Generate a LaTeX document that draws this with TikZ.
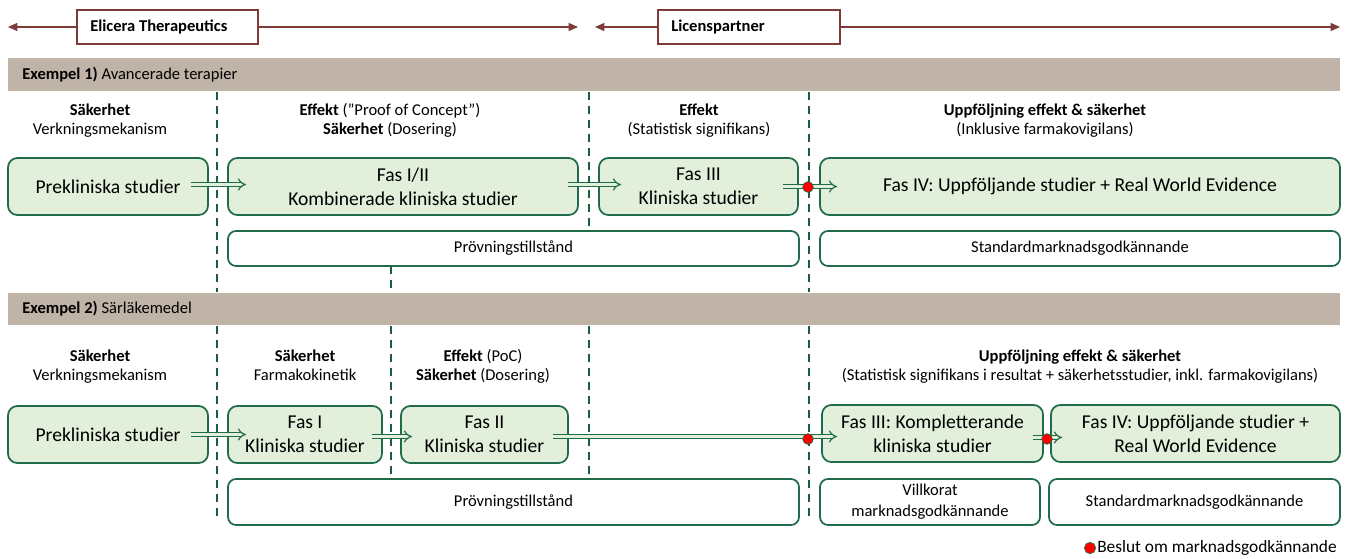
\documentclass[tikz,border=0pt]{standalone}
\usepackage{fontspec}
\setmainfont{Carlito}
\usetikzlibrary{fit,calc,arrows.meta}
\definecolor{gborder}{HTML}{1F6B4A}
\definecolor{gfill}{HTML}{E2EFDA}
\definecolor{dgreen}{HTML}{1B5E40}
\definecolor{bandc}{HTML}{C0B3A8}
\definecolor{redb}{HTML}{7F3A3A}
\newcommand\bigf{\fontsize{14.7}{18}\selectfont}
\newcommand\smf{\fontsize{12.4}{14.5}\selectfont}
\tikzset{
  gbox/.style={draw=gborder, fill=gfill, rounded corners=7pt, line width=1.3pt, inner sep=0pt},
  pbox/.style={draw=gborder, fill=white, rounded corners=6pt, line width=1.3pt, inner sep=0pt},
  btxt/.style={align=center, inner sep=0pt, font=\bigf},
  stxt/.style={align=center, inner sep=0pt, font=\smf},
  tbox/.style={draw=redb, fill=white, line width=1.1pt, inner sep=0pt},
  band/.style={fill=bandc, draw=none, inner sep=0pt},
  bandtxt/.style={anchor=west, inner sep=0pt, font=\smf},
  lbl/.style={align=center, inner sep=0pt, font=\smf, execute at begin node=\strut, execute at end node=\strut},
  dline/.style={draw=dgreen, line width=1.1pt, dash pattern=on 6pt off 4.5pt},
  rarrow/.style={draw=redb, line width=0.9pt, -{Triangle[length=7pt,width=6pt]}},
  garrow/.style={draw=gborder, double=gfill, double distance=2.2pt, line width=0.9pt, -{Implies[length=4pt]}},
  rdot/.style={circle, fill=red, draw=gborder, line width=0.5pt, minimum size=8pt, inner sep=0pt},
}
\begin{document}
\begin{tikzpicture}[x=0.75pt,y=-0.75pt]
\useasboundingbox (0,0) rectangle (1347,558);
% top arrows
\node[tbox, fit={(77,10) (258,44)}] (eli) {};
\node[anchor=west, inner sep=0pt, font=\bfseries\smf] at (90,27) {Elicera Therapeutics};
\node[tbox, fit={(658,10) (840,44)}] (lic) {};
\node[anchor=west, inner sep=0pt, font=\bfseries\smf] at (671,27) {Licenspartner};
\coordinate (a1) at (8,27);
\coordinate (a2) at (578,27);
\coordinate (a3) at (595,27);
\coordinate (a4) at (1340,27);
\draw[rarrow] (eli.west) -- (a1);
\draw[rarrow] (eli.east) -- (a2);
\draw[rarrow] (lic.west) -- (a3);
\draw[rarrow] (lic.east) -- (a4);
% bands
\node[band, fit={(8,58) (1340,91)}] (band1) {};
\node[bandtxt] at (22,75) {\textbf{Exempel 1)} Avancerade terapier};
\node[band, fit={(8,293) (1340,325)}] (band2) {};
\node[bandtxt] at (22,309) {\textbf{Exempel 2)} Särläkemedel};
% dashed lines
\draw[dline] (217,92) -- (217,292);
\draw[dline] (217,326) -- (217,516);
\draw[dline] (589,92) -- (589,230);
\draw[dline] (589,326) -- (589,478);
\draw[dline] (809,92) -- (809,292);
\draw[dline] (809,326) -- (809,520);
\draw[dline] (391,266) -- (391,292);
\draw[dline] (391,326) -- (391,478);
% row 1 labels
\node[lbl] at (100,122) {\textbf{Säkerhet}\\Verkningsmekanism};
\node[lbl] at (390,122) {\textbf{Effekt} (”Proof of Concept”)\\\textbf{Säkerhet} (Dosering)};
\node[lbl] at (699,122) {\textbf{Effekt}\\(Statistisk signifikans)};
\node[lbl] at (1045,122) {\textbf{Uppföljning effekt \& säkerhet}\\(Inklusive farmakovigilans)};
% row 1 boxes
\node[gbox, fit={(8,158) (208,215)}] (p1) {};
\node[btxt] at (p1) {Prekliniska studier};
\node[gbox, fit={(228,158) (578,215)}] (f12) {};
\node[btxt] at (f12) {Fas I/II\\Kombinerade kliniska studier};
\node[gbox, fit={(599,158) (798,215)}] (f3a) {};
\node[btxt] at (f3a) {Fas III\\Kliniska studier};
\node[gbox, fit={(820,158) (1340,215)}] (f4a) {};
\node[btxt] at (f4a) {Fas IV: Uppföljande studier + Real World Evidence};
% row 1 arrows
\draw[garrow] ($(p1.east)+(-18,-2)$) -- ($(f12.west)+(19,-2)$);
\draw[garrow] ($(f12.east)+(-11,-2)$) -- ($(f3a.west)+(23,-2)$);
\draw[garrow] ($(f3a.east)+(-16,0)$) -- ($(f4a.west)+(18,0)$);
\node[rdot] (d1) at (808,187) {};
% row 1 permits
\node[pbox, fit={(228,231) (799,266)}] (pv1) {};
\node[stxt] at (pv1) {Prövningstillstånd};
\node[pbox, fit={(820,231) (1340,266)}] (st1) {};
\node[stxt] at (st1) {Standardmarknadsgodkännande};
% row 2 labels
\node[lbl] at (100,368) {\textbf{Säkerhet}\\Verkningsmekanism};
\node[lbl] at (305,368) {\textbf{Säkerhet}\\Farmakokinetik};
\node[lbl] at (483,368) {\textbf{Effekt} (PoC)\\\textbf{Säkerhet} (Dosering)};
\node[lbl] at (1080,368) {\textbf{Uppföljning effekt \& säkerhet}\\(Statistisk signifikans i resultat + säkerhetsstudier, inkl. farmakovigilans)};
% row 2 boxes
\node[gbox, fit={(8,406) (208,463)}] (p2) {};
\node[btxt] at (p2) {Prekliniska studier};
\node[gbox, fit={(228,406) (382,463)}] (f1) {};
\node[btxt] at (f1) {Fas I\\Kliniska studier};
\node[gbox, fit={(401,406) (568,463)}] (f2) {};
\node[btxt] at (f2) {Fas II\\Kliniska studier};
\node[gbox, fit={(822,405) (1043,462)}] (f3b) {};
\node[btxt] at (f3b) {Fas III: Kompletterande\\kliniska studier};
\node[gbox, fit={(1051,405) (1340,462)}] (f4b) {};
\node[btxt] at (f4b) {Fas IV: Uppföljande studier +\\Real World Evidence};
% row 2 arrows
\draw[garrow] ($(p2.east)+(-18,0)$) -- ($(f1.west)+(19,0)$);
\draw[garrow] ($(f1.east)+(-11,2)$) -- ($(f2.west)+(12,2)$);
\draw[garrow] ($(f2.east)+(-16,2)$) -- ($(f3b.west)+(16,3)$);
\draw[garrow] ($(f3b.east)+(-11,4)$) -- ($(f4b.west)+(12,4)$);
\node[rdot] (d2) at (808,439) {};
\node[rdot] (d3) at (1047,439) {};
% row 2 permits
\node[pbox, fit={(228,479) (799,525)}] (pv2) {};
\node[stxt] at (pv2) {Prövningstillstånd};
\node[pbox, fit={(820,479) (1040,525)}] (vk) {};
\node[align=center, inner sep=0pt, font=\fontsize{12.4}{15.8}\selectfont] at (vk) {Villkorat\\marknadsgodkännande};
\node[pbox, fit={(1049,479) (1340,525)}] (st2) {};
\node[stxt] at (st2) {Standardmarknadsgodkännande};
% legend
\node[rdot, minimum size=8.5pt] (ld) at (1090,548) {};
\node[anchor=west, inner sep=0pt, font=\fontsize{13}{15}\selectfont] (lt) at (1097,548) {Beslut om marknadsgodkännande};
\end{tikzpicture}
\end{document}
